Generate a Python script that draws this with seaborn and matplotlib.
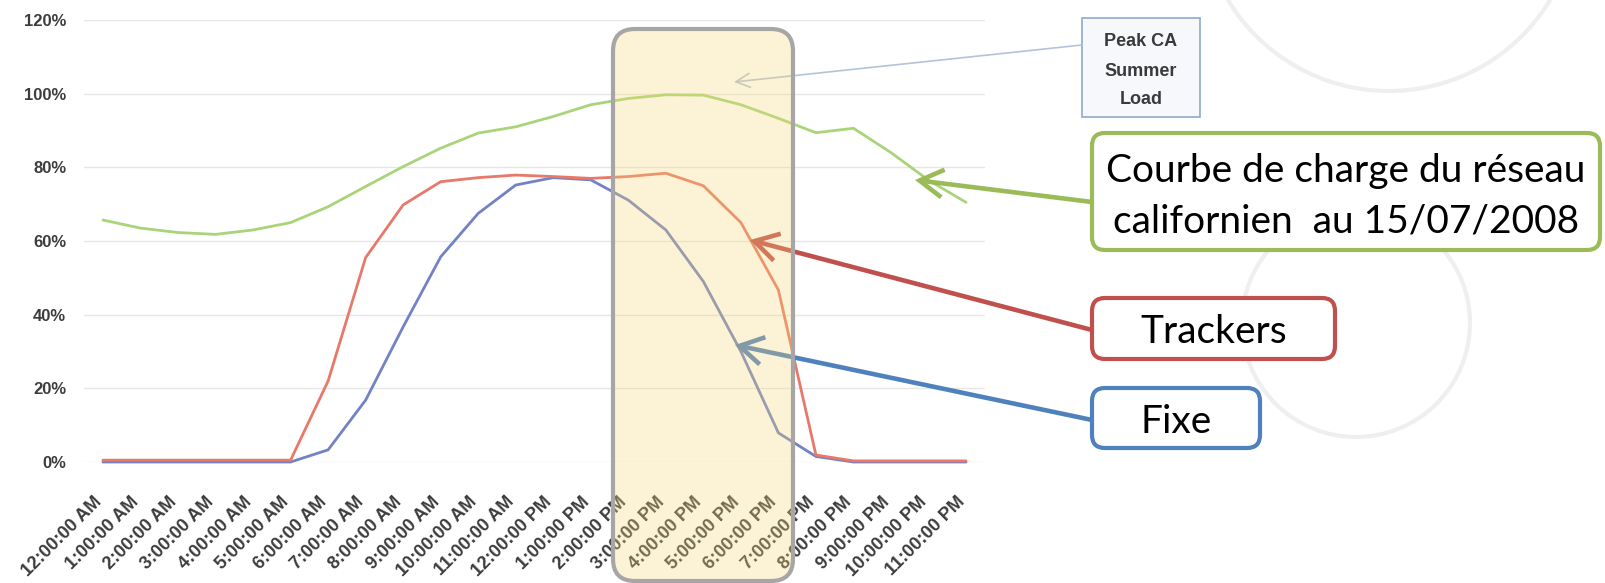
import numpy as np
import pandas as pd
import seaborn as sns
import matplotlib
matplotlib.use("Agg")
import matplotlib.pyplot as plt
from matplotlib.patches import Circle, FancyBboxPatch, Rectangle
from matplotlib.transforms import ScaledTranslation

# ---- data: share of peak, hourly, 15/07/2008 ----
hour_labels = [
    "12:00:00 AM", "1:00:00 AM", "2:00:00 AM", "3:00:00 AM", "4:00:00 AM",
    "5:00:00 AM", "6:00:00 AM", "7:00:00 AM", "8:00:00 AM", "9:00:00 AM",
    "10:00:00 AM", "11:00:00 AM", "12:00:00 PM", "1:00:00 PM", "2:00:00 PM",
    "3:00:00 PM", "4:00:00 PM", "5:00:00 PM", "6:00:00 PM", "7:00:00 PM",
    "8:00:00 PM", "9:00:00 PM", "10:00:00 PM", "11:00:00 PM",
]
load = [0.657, 0.635, 0.623, 0.618, 0.630, 0.650, 0.693, 0.748, 0.802, 0.852,
        0.893, 0.910, 0.938, 0.970, 0.987, 0.997, 0.996, 0.970, 0.933, 0.894,
        0.906, 0.840, 0.765, 0.705]
trackers = [0.005, 0.005, 0.005, 0.005, 0.005, 0.005, 0.220, 0.555, 0.698, 0.761,
            0.772, 0.779, 0.775, 0.770, 0.775, 0.784, 0.750, 0.650, 0.467, 0.019,
            0.003, 0.003, 0.003, 0.003]
fixe = [0.0, 0.0, 0.0, 0.0, 0.0, 0.0, 0.033, 0.168, 0.367, 0.557,
        0.675, 0.752, 0.772, 0.766, 0.711, 0.630, 0.490, 0.300, 0.079, 0.015,
        0.0, 0.0, 0.0, 0.0]
y_ticks = [0.0, 0.2, 0.4, 0.6, 0.8, 1.0, 1.2]
y_tick_labels = ["0%", "20%", "40%", "60%", "80%", "100%", "120%"]

series_colors = {"load": "#a9d47a", "trackers": "#e8796a", "fixe": "#7282c4"}

df = pd.concat([
    pd.DataFrame({"h": range(len(hour_labels)), "v": load, "s": "load"}),
    pd.DataFrame({"h": range(len(hour_labels)), "v": trackers, "s": "trackers"}),
    pd.DataFrame({"h": range(len(hour_labels)), "v": fixe, "s": "fixe"}),
], ignore_index=True)

sns.set_theme(style="white")
plt.rcParams["font.family"] = ["Lato", "DejaVu Sans"]
tick_font = ["Liberation Sans", "DejaVu Sans"]

W, H = 1606, 583
fig = plt.figure(figsize=(W / 100, H / 100), dpi=100)
fig.patch.set_facecolor("white")

def box(x0, y0, x1, y1):
    return [x0 / W, 1 - y1 / H, (x1 - x0) / W, (y1 - y0) / H]

# background decoration layer (pixel coordinates)
bg = fig.add_axes([0, 0, 1, 1], zorder=0)
bg.set_xlim(0, W)
bg.set_ylim(H, 0)
bg.axis("off")
for cx, cy, r in [(1389, -97, 188), (1356, 323, 114)]:
    bg.add_patch(Circle((cx, cy), r, fill=False, ec="#efefef", lw=3))

# chart
ax = fig.add_axes(box(84.2, 20, 984.8, 462), zorder=1)
ax.patch.set_alpha(0)
sns.lineplot(data=df, x="h", y="v", hue="s", palette=series_colors,
             hue_order=["load", "fixe", "trackers"], linewidth=2,
             legend=False, ax=ax)
for ln in ax.lines:
    ln.set_clip_on(False)
ax.set_xlim(-0.5, len(hour_labels) - 0.5)
ax.set_ylim(0, 1.2)
ax.set_yticks(y_ticks)
ax.set_yticklabels(y_tick_labels)
ax.set_xticks(range(len(hour_labels)))
ax.set_xticklabels(hour_labels, rotation=45, ha="right", va="center",
                   rotation_mode="anchor")
ax.set_xlabel("")
ax.set_ylabel("")
ax.grid(axis="y", color="#e6e6e6", lw=1)
ax.grid(axis="x", visible=False)
for sp in ax.spines.values():
    sp.set_visible(False)
ax.tick_params(axis="y", length=0, pad=13, labelsize=12, labelcolor="#3c3c3c")
ax.tick_params(axis="x", length=0, pad=27, labelsize=13, labelcolor="#3c3c3c")
for t in ax.get_yticklabels() + ax.get_xticklabels():
    t.set_family(tick_font)
    t.set_fontweight("bold")
shift = ScaledTranslation(-4 / 100, 0, fig.dpi_scale_trans)
for t in ax.get_xticklabels():
    t.set_transform(t.get_transform() + shift)

# annotation layer (pixel coordinates)
ov = fig.add_axes([0, 0, 1, 1], zorder=2)
ov.set_xlim(0, W)
ov.set_ylim(H, 0)
ov.axis("off")
ov.patch.set_alpha(0)

# "Peak CA Summer Load" note
ov.add_patch(Rectangle((1082, 18), 118, 99, fc="#f6f8fb", ec="#8eaacc", lw=1.2))
for txt, y in [("Peak CA", 41), ("Summer", 71), ("Load", 99)]:
    ov.text(1141, y, txt, ha="center", va="center", fontsize=13,
            fontweight="bold", color="#3a3a3a", family=tick_font)
ov.annotate("", xy=(734, 82), xytext=(1082, 45),
            arrowprops=dict(arrowstyle="->,head_length=0.5,head_width=0.25",
                            color="#b4c4d8", lw=1.2, mutation_scale=20,
                            shrinkA=0, shrinkB=0))

# callouts
callouts = [
    ((1092, 133, 1600, 250), "#9bbb59", (915, 180), (1092, 202),
     [("Courbe de charge du réseau", 182), ("californien  au 15/07/2008", 232)]),
    ((1092, 298, 1335, 359), "#c0504d", (750, 240), (1092, 330),
     [("Trackers", 343)]),
    ((1092, 388, 1260, 448), "#4f81bd", (735, 345), (1092, 420),
     [("Fixe", 433)]),
]
for (x0, y0, x1, y1), col, tip, tail, lines in callouts:
    ov.annotate("", xy=tip, xytext=tail,
                arrowprops=dict(arrowstyle="->,head_length=0.85,head_width=0.5",
                                color=col, lw=3.3, mutation_scale=20,
                                shrinkA=0, shrinkB=0, joinstyle="miter",
                                capstyle="butt"), zorder=3)
    ov.add_patch(FancyBboxPatch((x0, y0), x1 - x0, y1 - y0,
                                boxstyle="round,pad=0,rounding_size=13",
                                fc="white", ec=col, lw=3, zorder=4))
    cx = (x0 + x1) / 2
    for txt, yb in lines:
        ov.text(cx, yb, txt, ha="center", va="baseline", fontsize=28,
                color="black", zorder=5)

# highlighted evening window
ov.add_patch(FancyBboxPatch((613, 29), 180, 552,
                            boxstyle="round,pad=0,rounding_size=22",
                            fc=(248 / 255, 215 / 255, 118 / 255, 0.3),
                            ec="none", zorder=6))
ov.add_patch(FancyBboxPatch((613, 29), 180, 552,
                            boxstyle="round,pad=0,rounding_size=22",
                            fc="none", ec="#a6a6a6", lw=3, zorder=7))

fig.savefig("out.png", dpi=100, facecolor="white")
